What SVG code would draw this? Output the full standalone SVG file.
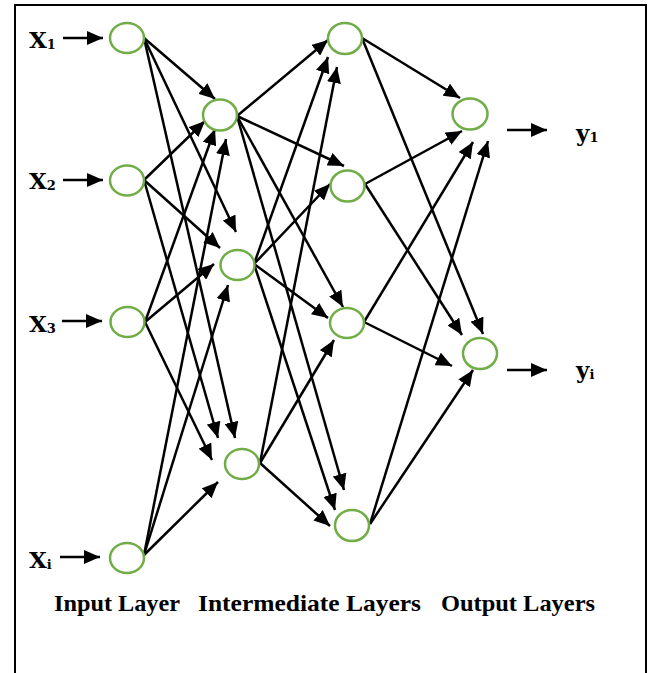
<svg xmlns="http://www.w3.org/2000/svg" width="650" height="673" viewBox="0 0 650 673">
<style>
.node{fill:#fff;stroke:#70AD47;stroke-width:2.5}
.edge{stroke:#000;stroke-width:2.5;fill:none;marker-end:url(#ah)}
.lbl{font-family:"DejaVu Serif","Liberation Serif",serif;font-weight:bold;font-size:23px;fill:#000}
.sub{font-size:13px}
.cap{font-family:"Liberation Serif","DejaVu Serif",serif;font-weight:bold;font-size:24px;fill:#000}
</style>
<defs>
<marker id="ah" markerUnits="userSpaceOnUse" markerWidth="16" markerHeight="14" refX="16" refY="7" orient="auto">
<path d="M0,0 L16,7 L0,14 z" fill="#000"/>
</marker>
</defs>
<rect x="15" y="5" width="631" height="700" fill="none" stroke="#000" stroke-width="2"/>
<g id="connectors">
<line class="edge" x1="63" y1="38" x2="103" y2="38"/>
<line class="edge" x1="63" y1="180" x2="103" y2="180"/>
<line class="edge" x1="62" y1="321" x2="102" y2="321"/>
<line class="edge" x1="60" y1="557" x2="100" y2="557"/>
<line class="edge" x1="144" y1="38" x2="215" y2="99"/>
<line class="edge" x1="144" y1="38" x2="236" y2="232"/>
<line class="edge" x1="144" y1="38" x2="235" y2="438"/>
<line class="edge" x1="144" y1="180" x2="205" y2="121"/>
<line class="edge" x1="144" y1="180" x2="220" y2="248"/>
<line class="edge" x1="144" y1="180" x2="218" y2="438"/>
<line class="edge" x1="145" y1="322" x2="215" y2="129"/>
<line class="edge" x1="145" y1="322" x2="214" y2="264"/>
<line class="edge" x1="145" y1="322" x2="212" y2="460"/>
<line class="edge" x1="144" y1="555" x2="226" y2="139"/>
<line class="edge" x1="144" y1="555" x2="228" y2="285"/>
<line class="edge" x1="144" y1="555" x2="218" y2="482"/>
<line class="edge" x1="237" y1="116" x2="328" y2="40"/>
<line class="edge" x1="237" y1="116" x2="344" y2="166"/>
<line class="edge" x1="237" y1="116" x2="343" y2="307"/>
<line class="edge" x1="237" y1="116" x2="344" y2="490"/>
<line class="edge" x1="254" y1="264" x2="328" y2="57"/>
<line class="edge" x1="254" y1="264" x2="330" y2="184"/>
<line class="edge" x1="254" y1="264" x2="328" y2="318"/>
<line class="edge" x1="254" y1="264" x2="335" y2="510"/>
<line class="edge" x1="260" y1="463" x2="337" y2="67"/>
<line class="edge" x1="260" y1="463" x2="334" y2="340"/>
<line class="edge" x1="260" y1="463" x2="330" y2="526"/>
<line class="edge" x1="362" y1="38" x2="460" y2="98"/>
<line class="edge" x1="362" y1="38" x2="483" y2="334"/>
<line class="edge" x1="365" y1="184" x2="462" y2="131"/>
<line class="edge" x1="365" y1="184" x2="462" y2="335"/>
<line class="edge" x1="364" y1="322" x2="473" y2="142"/>
<line class="edge" x1="364" y1="322" x2="452" y2="366"/>
<line class="edge" x1="370" y1="524" x2="488" y2="141"/>
<line class="edge" x1="370" y1="524" x2="473" y2="370"/>
<line class="edge" x1="507" y1="130" x2="547" y2="130"/>
<line class="edge" x1="507" y1="370" x2="547" y2="370"/>
</g>
<g id="x1"><ellipse class="node" cx="127" cy="38" rx="17" ry="15"/></g>
<g id="x2"><ellipse class="node" cx="127" cy="180.5" rx="17" ry="15"/></g>
<g id="x3"><ellipse class="node" cx="127.5" cy="322" rx="17" ry="15"/></g>
<g id="xi"><ellipse class="node" cx="127" cy="558" rx="17" ry="15"/></g>
<g id="h1"><ellipse class="node" cx="220" cy="115" rx="17" ry="15.5"/></g>
<g id="h2"><ellipse class="node" cx="237.5" cy="265" rx="17" ry="15"/></g>
<g id="h3"><ellipse class="node" cx="242" cy="464" rx="17" ry="15"/></g>
<g id="g1"><ellipse class="node" cx="345" cy="38.5" rx="17" ry="15.5"/></g>
<g id="g2"><ellipse class="node" cx="347.5" cy="186" rx="17" ry="15.5"/></g>
<g id="g3"><ellipse class="node" cx="347" cy="323" rx="17" ry="15"/></g>
<g id="g4"><ellipse class="node" cx="352" cy="525.5" rx="17" ry="15.5"/></g>
<g id="o1"><ellipse class="node" cx="470" cy="114" rx="17.5" ry="15.5"/></g>
<g id="o2"><ellipse class="node" cx="480" cy="353.5" rx="17" ry="15.5"/></g>
<g id="labels">
<text class="lbl" x="29" y="48">X<tspan class="sub" dy="1">1</tspan></text>
<text class="lbl" x="29" y="189">X<tspan class="sub" dy="1">2</tspan></text>
<text class="lbl" x="29" y="332">X<tspan class="sub" dy="1">3</tspan></text>
<text class="lbl" x="29" y="568">X<tspan class="sub" dy="1">i</tspan></text>
<text class="lbl" x="576" y="141">y<tspan class="sub" dy="1">1</tspan></text>
<text class="lbl" x="576" y="378">y<tspan class="sub" dy="1">i</tspan></text>
<text class="cap" x="54" y="611" textLength="126" lengthAdjust="spacingAndGlyphs">Input Layer</text>
<text class="cap" x="198" y="611" textLength="223" lengthAdjust="spacingAndGlyphs">Intermediate Layers</text>
<text class="cap" x="441" y="611" textLength="154" lengthAdjust="spacingAndGlyphs">Output Layers</text>
</g>
</svg>
